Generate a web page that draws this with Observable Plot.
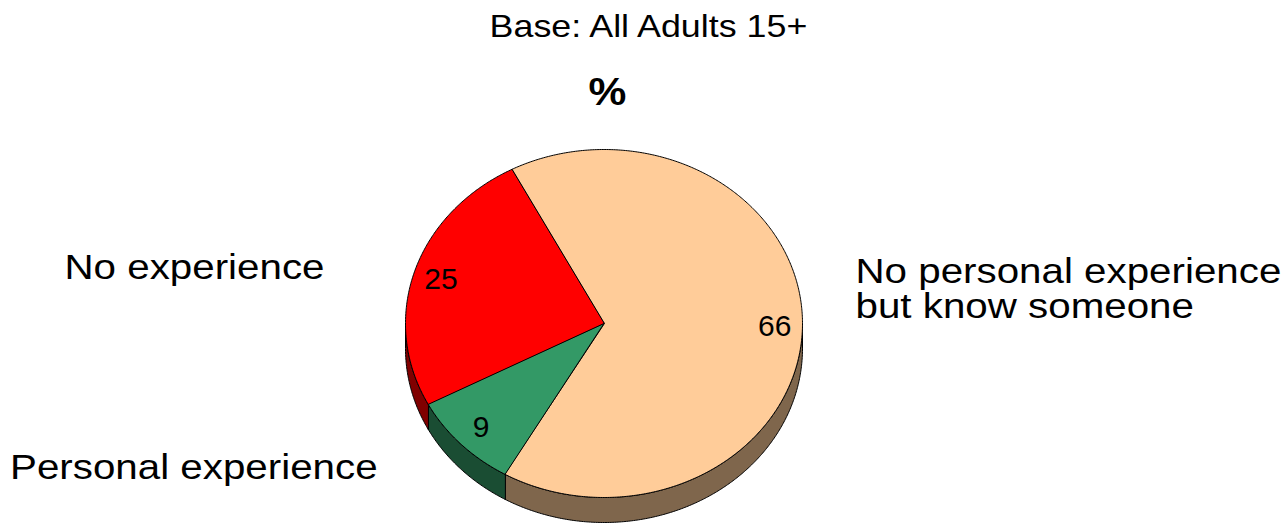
<!DOCTYPE html>
<html><head><meta charset="utf-8">
<script src="https://cdn.jsdelivr.net/npm/d3@7"></script>
<script src="https://cdn.jsdelivr.net/npm/@observablehq/plot@0.6"></script>
<style>html,body{margin:0;padding:0;background:#fff;} svg{display:block;}</style>
</head><body><div id="chart"></div>
<script>
// ---- data ----
const categories = ["No personal experience but know someone", "Personal experience", "No experience"];
const values = [66, 9, 25];
const labelLines = ["No personal experience\nbut know someone", "Personal experience", "No experience"];
const topColors = ["#FFCC99", "#339966", "#FF0000"];
const sideColors = ["#7F664C", "#1A4D33", "#800000"];
const titleText = "Base: All Adults 15+";
const unitText = "%";

// ---- layout ----
const W = 1285, H = 524;
const pie = {cx: 603.5, cy: 323, rx: 198.5, ry: 174, depth: 25, start: -27.7 * Math.PI / 180};
const font = "Liberation Sans, Arial, Helvetica, sans-serif";
const stretch = 1.12;
const catLabelPos = [
  {x: 855, y: 257.5},
  {x: 9.5, y: 453.5},
  {x: 64, y: 253.5}
];

const arcs = d3.pie().sort(null).startAngle(pie.start).endAngle(pie.start + 2 * Math.PI)(values);
const pt = (a, dz = 0) => [pie.cx + pie.rx * Math.sin(a), pie.cy - pie.ry * Math.cos(a) + dz];
const step = Math.PI / 360;

const tops = [], sides = [];
arcs.forEach((a, i) => {
  tops.push({id: i, x: pie.cx, y: pie.cy, color: topColors[i]});
  const n = Math.max(2, Math.ceil((a.endAngle - a.startAngle) / step));
  for (let k = 0; k <= n; k++) {
    const t = a.startAngle + (a.endAngle - a.startAngle) * k / n;
    const [x, y] = pt(t);
    tops.push({id: i, x, y, color: topColors[i]});
  }
  const ranges = [];
  for (const off of [-2 * Math.PI, 0, 2 * Math.PI]) {
    const s = Math.max(a.startAngle, Math.PI / 2 + off), e = Math.min(a.endAngle, 3 * Math.PI / 2 + off);
    if (e > s) ranges.push([s, e]);
  }
  ranges.forEach(([s, e], j) => {
    const m = Math.max(2, Math.ceil((e - s) / step));
    const key = i + "-" + j;
    for (let k = 0; k <= m; k++) {
      const [x, y] = pt(s + (e - s) * k / m);
      sides.push({id: key, x, y, color: sideColors[i]});
    }
    for (let k = m; k >= 0; k--) {
      const [x, y] = pt(s + (e - s) * k / m, pie.depth);
      sides.push({id: key, x, y, color: sideColors[i]});
    }
  });
});

const valueLabels = arcs.map((a, i) => {
  const mid = (a.startAngle + a.endAngle) / 2;
  const f = 0.86;
  return {text: String(values[i]), x: pie.cx + pie.rx * f * Math.sin(mid), y: pie.cy - pie.ry * f * Math.cos(mid)};
});
const catLabels = labelLines.map((t, i) => ({text: t, ...catLabelPos[i]}));

const chart = Plot.plot({
  width: W, height: H,
  margin: 0,
  x: {domain: [0, W], range: [0, W], axis: null},
  y: {domain: [0, H], range: [0, H], axis: null},
  color: {type: "identity"},
  style: {background: "#fff", fontFamily: font},
  marks: [
    Plot.line(sides, {x: "x", y: "y", z: "id", fill: "color", stroke: "#000", strokeWidth: 1, curve: "linear-closed", strokeLinejoin: "round"}),
    Plot.line(tops, {x: "x", y: "y", z: "id", fill: "color", stroke: "#000", strokeWidth: 1, curve: "linear-closed", strokeLinejoin: "round"}),
    Plot.text(valueLabels, {x: "x", y: "y", text: "text", fontSize: 30, fill: "#000", fontFamily: font}),
    Plot.text(catLabels, {x: "x", y: "y", text: "text", fontSize: 36, textAnchor: "start", lineAnchor: "top", lineHeight: 0.97, fill: "#000", fontFamily: font}),
    Plot.text([titleText], {x: () => 648, y: () => 14, text: d => d, fontSize: 32, lineAnchor: "top", fill: "#000", fontFamily: font}),
    Plot.text([unitText], {x: () => 607, y: () => 78, text: d => d, fontSize: 38, fontWeight: "bold", lineAnchor: "top", fill: "#000", fontFamily: font})
  ]
});

// horizontally stretch the category labels, title and unit (all text groups after the value labels)
const textGroups = chart.querySelectorAll('g[aria-label="text"]');
textGroups.forEach((g, gi) => {
  if (gi === 0) return;
  d3.select(g).selectAll("text").each(function() {
    const el = d3.select(this);
    const tr = el.attr("transform");
    if (tr) el.attr("transform", tr + ` scale(${stretch},1)`);
    else {
      const x = +el.attr("x") || 0;
      el.attr("transform", `translate(${x},0) scale(${stretch},1) translate(${-x},0)`);
    }
  });
});

document.getElementById("chart").appendChild(chart);
</script>
</body></html>
